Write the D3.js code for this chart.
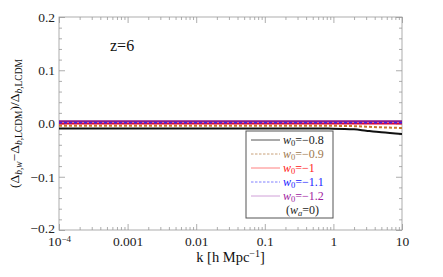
<!DOCTYPE html>
<html>
<head>
<meta charset="utf-8">
<script src="https://d3js.org/d3.v7.min.js"></script>
<style>
  body { margin: 0; background: #fff; }
  svg text { font-family: "Liberation Serif", "Times New Roman", "DejaVu Serif", serif !important; }
</style>
</head>
<body>
<div id="my_dataviz"></div>
<script>
// data
var kValues = [1e-4, 1e-3, 1e-2, 0.1, 0.3, 1, 2, 3, 5, 10];
var w08 = [-0.0093, -0.0093, -0.0093, -0.0093, -0.0093, -0.0097, -0.011, -0.0135, -0.0165, -0.0196];
var w09 = [-0.0042, -0.0042, -0.0042, -0.0042, -0.0042, -0.0044, -0.005, -0.006, -0.0072, -0.0085];
var w10 = [0, 0, 0, 0, 0, 0, 0, 0, 0, 0];
var w11 = [0.002, 0.002, 0.002, 0.002, 0.002, 0.002, 0.002, 0.002, 0.002, 0.002];
var w12 = [0.0042, 0.0042, 0.0042, 0.0042, 0.0042, 0.0042, 0.0042, 0.0042, 0.0042, 0.0042];
var seriesNames = ["\u22120.8", "\u22120.9", "\u22121", "\u22121.1", "\u22121.2"];
var xTicks = [1e-4, 1e-3, 1e-2, 0.1, 1, 10];
var xTickLabels = ["10", "0.001", "0.01", "0.1", "1", "10"];
var yTicks = [0.2, 0.1, 0, -0.1, -0.2];
var yTickLabels = ["0.2", "0.1", "0.0", "\u22120.1", "\u22120.2"];

var series = [
  {name: seriesNames[0], values: w08, color: "#111", text: "#222", dash: null, legColor: "#555"},
  {name: seriesNames[1], values: w09, color: "#c8782a", text: "#a07a50", dash: "3,2", legColor: "#c8a078"},
  {name: seriesNames[2], values: w10, color: "#e8002a", text: "#ff2020", dash: null, legColor: "#ff8080"},
  {name: seriesNames[3], values: w11, color: "#2a2aff", text: "#2020ff", dash: "3,2", legColor: "#8080ff"},
  {name: seriesNames[4], values: w12, color: "#8a1a8a", text: "#a020a0", dash: null, legColor: "#d0a0d8"}
];

var W = 443, H = 277;
var margin = {top: 17, right: 41, bottom: 47, left: 59};
var width = W - margin.left - margin.right,
    height = H - margin.top - margin.bottom;

var svg = d3.select("#my_dataviz").append("svg")
    .attr("width", W).attr("height", H);
var g = svg.append("g")
    .attr("transform", "translate(" + margin.left + "," + margin.top + ")");

var x = d3.scaleLog().domain([1e-4, 10]).range([0, width]);
var y = d3.scaleLinear().domain([-0.2, 0.2]).range([height, 0]);

// minor ticks
var xMinor = [];
for (var e = -4; e < 1; e++) {
  for (var m = 2; m < 10; m++) xMinor.push(m * Math.pow(10, e));
}
var yMinor = d3.range(-0.2, 0.2001, 0.02).filter(function(v) {
  return Math.abs(Math.round(v * 10) - v * 10) > 1e-6;
});

var axisCol = "#999";
function styleAxis(sel) {
  sel.attr("font-family", null);
  sel.select(".domain").remove();
  sel.selectAll("line").attr("stroke", axisCol).attr("stroke-width", 0.8);
  sel.selectAll("text").attr("fill", "#222").style("font-size", "13.5px");
}

// bottom
var xAxisG = g.append("g").attr("transform", "translate(0," + height + ")")
  .call(d3.axisBottom(x).tickValues(xTicks).tickSize(-6).tickPadding(6)
    .tickFormat(function(d, i) { return xTickLabels[i]; }))
  .call(styleAxis);
g.append("g").attr("transform", "translate(0," + height + ")")
  .call(d3.axisBottom(x).tickValues(xMinor).tickSize(-3).tickFormat(""))
  .call(styleAxis);
// top
g.append("g")
  .call(d3.axisTop(x).tickValues(xTicks).tickSize(-6).tickFormat(""))
  .call(styleAxis);
g.append("g")
  .call(d3.axisTop(x).tickValues(xMinor).tickSize(-3).tickFormat(""))
  .call(styleAxis);
// left
var yAxisG = g.append("g")
  .call(d3.axisLeft(y).tickValues(yTicks).tickSize(-6).tickPadding(4)
    .tickFormat(function(d, i) { return yTickLabels[i]; }))
  .call(styleAxis);
g.append("g")
  .call(d3.axisLeft(y).tickValues(yMinor).tickSize(-3).tickFormat(""))
  .call(styleAxis);
// right
g.append("g").attr("transform", "translate(" + width + ",0)")
  .call(d3.axisRight(y).tickValues(yTicks).tickSize(-6).tickFormat(""))
  .call(styleAxis);
g.append("g").attr("transform", "translate(" + width + ",0)")
  .call(d3.axisRight(y).tickValues(yMinor).tickSize(-3).tickFormat(""))
  .call(styleAxis);

// lowest y label sits just above the corner
yAxisG.selectAll(".tick text").filter(function(d) { return d === -0.2; })
  .attr("y", -2);

// superscript on 10^-4
xAxisG.selectAll(".tick text").filter(function(d) { return d === 1e-4; })
  .append("tspan").attr("dy", "-0.35em").style("font-size", "9px").text("\u22124");

// frame
g.append("rect").attr("width", width).attr("height", height)
  .attr("fill", "none").attr("stroke", axisCol).attr("stroke-width", 0.8);

// curves
var line = d3.line()
  .x(function(d, i) { return x(kValues[i]); })
  .y(function(d) { return y(d); })
  .curve(d3.curveMonotoneX);

g.append("g").selectAll("path")
  .data(series)
  .enter().append("path")
    .attr("d", function(d) { return line(d.values); })
    .attr("fill", "none")
    .attr("stroke", function(d) { return d.color; })
    .attr("stroke-width", 2)
    .attr("stroke-dasharray", function(d) { return d.dash; });

// z label
g.append("text").attr("x", 51).attr("y", 34)
  .style("font-size", "16px").attr("fill", "#111").text("z=6");

// legend
var lx = 246 - margin.left, ly = 131 - margin.top;
var leg = g.append("g").attr("transform", "translate(" + lx + "," + ly + ")");
leg.append("rect").attr("width", 87).attr("height", 87)
  .attr("fill", "#fff").attr("stroke", "#555").attr("stroke-width", 1);
var rows = leg.selectAll("g.row").data(series).enter().append("g")
  .attr("transform", function(d, i) { return "translate(0," + (9 + i * 14) + ")"; });
rows.append("line").attr("x1", 5).attr("x2", 34)
  .attr("stroke", function(d) { return d.legColor; })
  .attr("stroke-width", 1)
  .attr("stroke-dasharray", function(d) { return d.dash ? "2.5,1.5" : null; });
var lt = rows.append("text").attr("x", 37).attr("y", 4)
  .style("font-size", "12px").attr("fill", function(d) { return d.text; });
lt.append("tspan").style("font-style", "italic").text("w");
lt.append("tspan").attr("dy", 2).style("font-size", "8.5px").text("0");
lt.append("tspan").attr("dy", -2).text(function(d) { return "=" + d.name; });
var wa = leg.append("text").attr("x", 40).attr("y", 83)
  .style("font-size", "12px").attr("fill", "#222");
wa.append("tspan").text("(");
wa.append("tspan").style("font-style", "italic").text("w");
wa.append("tspan").attr("dy", 2).style("font-size", "8.5px").style("font-style", "italic").text("a");
wa.append("tspan").attr("dy", -2).text("=0)");

// x label
var xl = svg.append("text").attr("x", margin.left + width / 2).attr("y", 262)
  .attr("text-anchor", "middle").style("font-size", "14.5px").attr("fill", "#111");
xl.append("tspan").text("k [h Mpc");
xl.append("tspan").attr("dy", -5).style("font-size", "10px").text("\u22121");
xl.append("tspan").attr("dy", 5).text("]");

// y label
var yl = svg.append("text")
  .attr("transform", "translate(19," + (margin.top + height / 2) + ") rotate(-90)")
  .attr("text-anchor", "middle").style("font-size", "13.5px").attr("fill", "#111");
yl.append("tspan").text("(\u0394");
yl.append("tspan").attr("dy", 3).style("font-size", "9.5px").style("font-style", "italic").text("b");
yl.append("tspan").style("font-size", "9.5px").text(",");
yl.append("tspan").style("font-size", "9.5px").style("font-style", "italic").text("w");
yl.append("tspan").attr("dy", -3).text("\u2212\u0394");
yl.append("tspan").attr("dy", 3).style("font-size", "9.5px").style("font-style", "italic").text("b");
yl.append("tspan").style("font-size", "9.5px").text(",LCDM");
yl.append("tspan").attr("dy", -3).text(")/\u0394");
yl.append("tspan").attr("dy", 3).style("font-size", "9.5px").style("font-style", "italic").text("b");
yl.append("tspan").style("font-size", "9.5px").text(",LCDM");
</script>
</body>
</html>
